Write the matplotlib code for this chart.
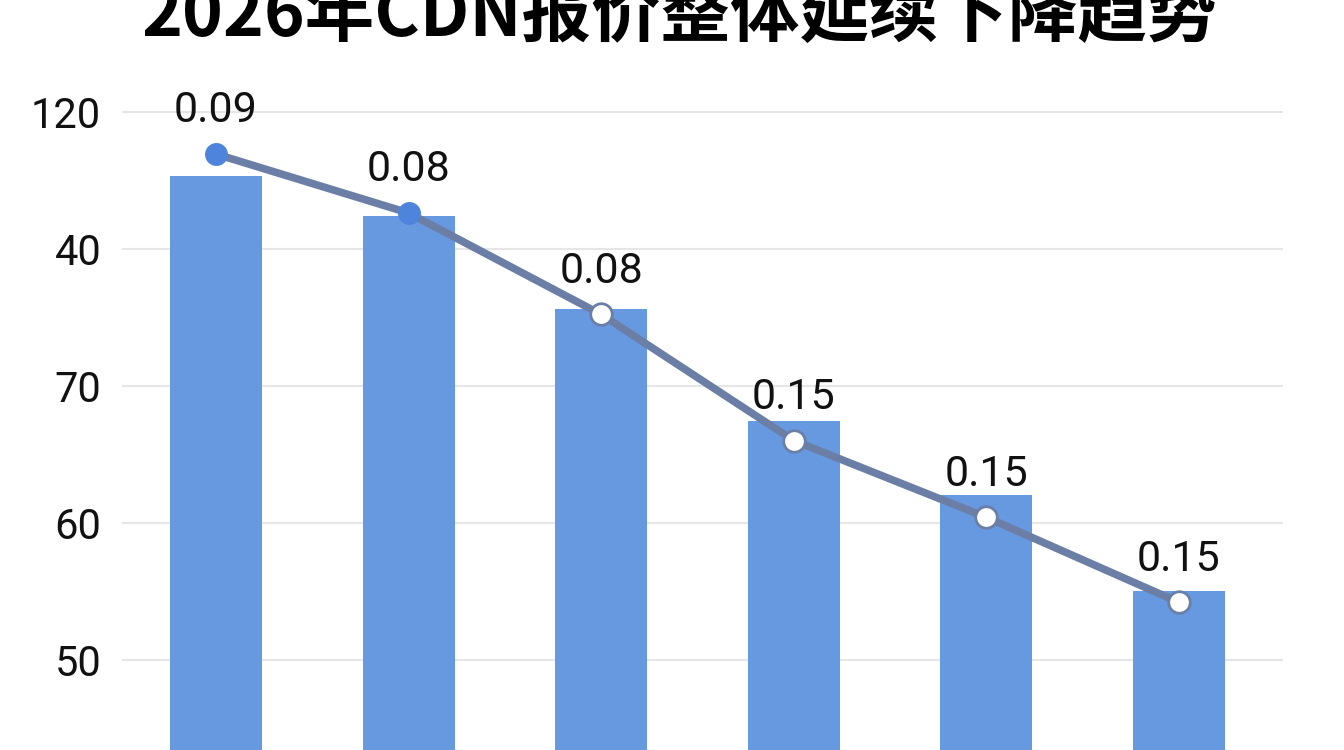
import matplotlib
matplotlib.use("Agg")
import matplotlib.pyplot as plt

plt.rcParams['font.family'] = ['Noto Sans CJK SC', 'DejaVu Sans']

title = "2026年CDN报价整体延续下降趋势"
categories = ["1", "2", "3", "4", "5", "6"]
bar_values = [45.3, 42.4, 35.6, 27.4, 22.0, 15.0]
line_values = [46.9, 42.6, 35.2, 26.0, 20.4, 14.2]
line_labels = ["0.09", "0.08", "0.08", "0.15", "0.15", "0.15"]
marker_filled = [True, True, False, False, False, False]
ytick_pos = [10, 20, 30, 40, 50]
ytick_labels = ["50", "60", "70", "40", "120"]

W, H = 1344, 750
fig = plt.figure(figsize=(W / 100, H / 100), dpi=100)
ax_left, ax_right, ax_top, ax_bottom = 122, 1283, 80, 750
ax = fig.add_axes([ax_left / W, 1 - ax_bottom / H, (ax_right - ax_left) / W, (ax_bottom - ax_top) / H])

x = list(range(len(categories)))
bar_color = "#6699e0"
line_color = "#6b7fa6"

ax.bar(x, bar_values, width=0.478, color=bar_color, zorder=2)
ax.plot(x, line_values, color=line_color, lw=5.5, zorder=3, solid_capstyle='round')
for xi, yi, filled, lab in zip(x, line_values, marker_filled, line_labels):
    if filled:
        ax.plot(xi, yi, 'o', ms=15.5, mfc="#4f84dc", mec="#4f84dc", zorder=4)
    else:
        ax.plot(xi, yi, 'o', ms=15.5, mfc="white", mec=line_color, mew=2, zorder=4)
    ax.annotate(lab, (xi, yi), xytext=(0, 31), textcoords='offset points',
                ha='center', va='center', fontsize=31, color='#111111',
                family=['Roboto', 'DejaVu Sans'], zorder=5)

ax.set_xlim(-0.488, 5.54)
ax.set_ylim(3.43, 52.3)
ax.set_yticks(ytick_pos)
ax.set_yticklabels(ytick_labels, fontsize=30, color='#111111', family=['Roboto', 'DejaVu Sans'])
ax.tick_params(axis='y', length=0, pad=15)
ax.set_xticks([])
ax.grid(axis='y', color='#e6e6e6', lw=1.5, zorder=0)
for s in ax.spines.values():
    s.set_visible(False)

fig.text(679 / W, 1 - 36 / H, title, ha='center', va='baseline', fontsize=50,
         fontweight='heavy', color='black')

fig.savefig("out.png", dpi=100)
